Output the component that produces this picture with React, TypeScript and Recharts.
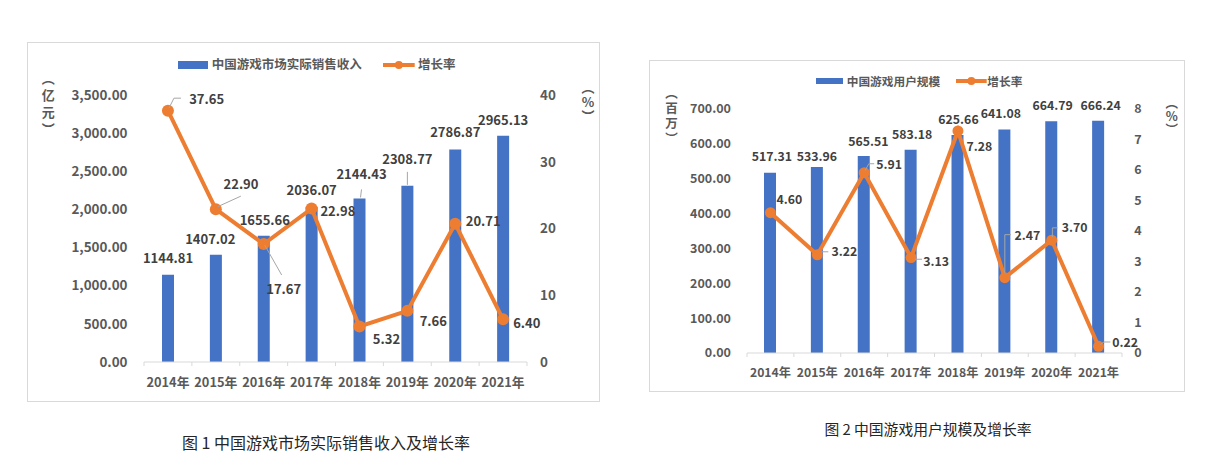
import React from 'react';
import { ComposedChart, Bar, Line, XAxis, YAxis, Legend, LabelList } from 'recharts';

// ---------- data ----------
const years = ['2014年', '2015年', '2016年', '2017年', '2018年', '2019年', '2020年', '2021年'];
const salesRevenue = [1144.81, 1407.02, 1655.66, 2036.07, 2144.43, 2308.77, 2786.87, 2965.13];
const salesGrowth = [37.65, 22.9, 17.67, 22.98, 5.32, 7.66, 20.71, 6.4];
const gameUsers = [517.31, 533.96, 565.51, 583.18, 625.66, 641.08, 664.79, 666.24];
const userGrowth = [4.6, 3.22, 5.91, 3.13, 7.28, 2.47, 3.7, 0.22];

const salesTicks = [0, 500, 1000, 1500, 2000, 2500, 3000, 3500];
const salesGrowthTicks = [0, 10, 20, 30, 40];
const userTicks = [0, 100, 200, 300, 400, 500, 600, 700];
const userGrowthTicks = [0, 1, 2, 3, 4, 5, 6, 7, 8];

const salesName = '中国游戏市场实际销售收入';
const usersName = '中国游戏用户规模';
const growthName = '增长率';
const salesUnit = '亿元';
const usersUnit = '百万';
const rateUnit = '%';
const caption1 = '图 1 中国游戏市场实际销售收入及增长率';
const caption2 = '图 2 中国游戏用户规模及增长率';

const salesData = years.map((year, i) => ({ year, value: salesRevenue[i], rate: salesGrowth[i] }));
const usersData = years.map((year, i) => ({ year, value: gameUsers[i], rate: userGrowth[i] }));

// ---------- label layout (offsets from the mark, px) ----------
type Pt = [number, number];
const salesBarLabelPos: Pt[] = [[0, -17], [-5.6, -16], [1, -16], [0, -17], [2, -25], [0, -27.6], [0, -17.7], [0, -16.8]];
const salesBarLeaders: (Pt[] | null)[] = [null, null, null, null, [[1, -1], [2, -9]], [[0, -1], [0, -14]], null, null];
const salesRateLabelPos: Pt[] = [[38.7, -11.7], [25.2, -26], [20, 44], [26.3, 2], [27, 12], [26, 10], [28, -3.5], [23.7, 3.4]];
const salesRateLeaders: (Pt[] | null)[] = [
  [[1, -2.5], [6, -12.5], [13, -12.5]],
  [[2, -2.5], [25, -13]],
  [[1, 1], [18, 31]],
  null, null, null, null, null,
];
const usersBarLabelPos: Pt[] = [[1.8, -17], [0, -11.2], [4.6, -15.2], [1.4, -16], [1, -16.2], [-3.6, -16.5], [1.4, -16.6], [2.5, -16.1]];
const usersBarLeaders: (Pt[] | null)[] = [null, null, null, null, null, null, null, null];
const usersRateLabelPos: Pt[] = [[19, -13.7], [27, -3.4], [25, -9], [25, 3], [21.4, 15], [22.5, -43], [23, -12.7], [26.5, -4.6]];
const usersRateLeaders: (Pt[] | null)[] = [
  null,
  [[4, -3], [11, -3]],
  [[1, -2.3], [4.6, -9], [10, -9]],
  [[4, 1.7], [11, 1.7]],
  null,
  [[0, -5], [0, -43], [6, -43]],
  [[0.7, -3.3], [0.7, -12.3], [6, -12.3]],
  [[1.8, -1.7], [5.4, -4.3], [11.8, -4.3]],
];

// ---------- styles ----------
const FONT = "'Noto Sans CJK SC', 'Noto Sans', sans-serif";
const BLUE = '#4472C4';
const ORANGE = '#ED7D31';
const AXIS_TEXT = '#595959';
const LABEL_TEXT = '#404040';
const BORDER = '#D9D9D9';
const LEADER = '#A6A6A6';

const num = (a: any, b: any) => (typeof a === 'number' ? a : typeof b === 'number' ? b : 0);

function labelRenderer(offsets: Pt[], leaders: (Pt[] | null)[], isBar: boolean, font: number) {
  return (p: any) => {
    const vb = p.viewBox || {};
    const x = num(p.x, vb.x);
    const y = num(p.y, vb.y);
    const w = isBar ? num(p.width, vb.width) : 0;
    const i = typeof p.index === 'number' ? p.index : 0;
    const ax = x + w / 2;
    const ay = y;
    const [dx, dy] = offsets[i] || [0, 0];
    const path = leaders[i];
    return (
      <g key={`lbl-${isBar ? 'b' : 'l'}-${i}`}>
        {path && (
          <polyline
            points={path.map(([a, b]) => `${ax + a},${ay + b}`).join(' ')}
            fill="none"
            stroke={LEADER}
            strokeWidth={1}
          />
        )}
        <text
          x={ax + dx}
          y={ay + dy}
          textAnchor="middle"
          dominantBaseline="central"
          fontFamily={FONT}
          fontSize={font}
          fontWeight={700}
          fill={LABEL_TEXT}
        >
          {Number(p.value).toFixed(2)}
        </text>
      </g>
    );
  };
}

function xTickRenderer(band: number, count: number, font: number, textDy: number) {
  return (p: any) => {
    const { x, y, payload, index } = p;
    return (
      <g key={`xt-${index}`}>
        <line x1={x - band / 2} x2={x - band / 2} y1={y} y2={y + 4} stroke={BORDER} strokeWidth={1} />
        {index === count - 1 && (
          <line x1={x + band / 2} x2={x + band / 2} y1={y} y2={y + 4} stroke={BORDER} strokeWidth={1} />
        )}
        <text
          x={x}
          y={y + textDy}
          textAnchor="middle"
          dominantBaseline="central"
          fontFamily={FONT}
          fontSize={font}
          fontWeight={700}
          fill={AXIS_TEXT}
        >
          {payload.value}
        </text>
      </g>
    );
  };
}

interface LegendCfg {
  cy: number; swX: number; swW: number; swH: number; t1X: number; lineX: number; lineW: number; t2X: number; font: number;
}

interface ChartCfg {
  left: number; top: number; width: number; height: number;
  data: any[];
  leftTicks: number[]; rightTicks: number[];
  leftAxisW: number; rightAxisW: number; xAxisH: number; marginTop: number;
  leftGap: number; rightGap: number;
  tickFont: number; labelFont: number; xFont: number; xTextDy: number;
  barSize: number; lineW: number; dotR: number;
  barPos: Pt[]; barLeaders: (Pt[] | null)[];
  ratePos: Pt[]; rateLeaders: (Pt[] | null)[];
  legend: LegendCfg;
  barName: string;
  leftFmt: (v: number) => string;
}

function DualChart({ c }: { c: ChartCfg }) {
  const innerW = c.width - 2;
  const innerH = c.height - 2;
  const band = (innerW - c.leftAxisW - c.rightAxisW) / years.length;
  const lg = c.legend;
  const tickStyle = { fontSize: c.tickFont, fontWeight: 700, fill: AXIS_TEXT, fontFamily: FONT };
  return (
    <div
      style={{
        position: 'absolute',
        left: c.left,
        top: c.top,
        width: c.width,
        height: c.height,
        border: `1px solid ${BORDER}`,
        boxSizing: 'border-box',
        background: '#fff',
      }}
    >
      <ComposedChart
        width={innerW}
        height={innerH}
        data={c.data}
        margin={{ top: c.marginTop, right: 0, bottom: 0, left: 0 }}
      >
        <XAxis
          dataKey="year"
          height={c.xAxisH}
          interval={0}
          tickLine={false}
          tickSize={0}
          tickMargin={0}
          axisLine={{ stroke: BORDER, strokeWidth: 1 }}
          tick={xTickRenderer(band, years.length, c.xFont, c.xTextDy)}
        />
        <YAxis
          yAxisId="left"
          orientation="left"
          width={c.leftAxisW}
          domain={[0, c.leftTicks[c.leftTicks.length - 1]]}
          ticks={c.leftTicks}
          interval={0}
          axisLine={false}
          tickLine={false}
          tickSize={0}
          tickMargin={c.leftGap}
          tick={tickStyle}
          tickFormatter={c.leftFmt}
        />
        <YAxis
          yAxisId="right"
          orientation="right"
          width={c.rightAxisW}
          domain={[0, c.rightTicks[c.rightTicks.length - 1]]}
          ticks={c.rightTicks}
          interval={0}
          axisLine={false}
          tickLine={false}
          tickSize={0}
          tickMargin={c.rightGap}
          tick={tickStyle}
        />
        <Legend
          layout="horizontal"
          verticalAlign="middle"
          align="center"
          wrapperStyle={{ left: 0, top: 0, width: innerW, height: 40 }}
          content={(props: any) => {
            const pl = props.payload || [];
            const n1 = (pl[0] && pl[0].value) || c.barName;
            const n2 = (pl[1] && pl[1].value) || growthName;
            const textStyle: React.CSSProperties = {
              position: 'absolute',
              top: lg.cy - lg.font * 0.75,
              height: lg.font * 1.5,
              lineHeight: `${lg.font * 1.5}px`,
              fontSize: lg.font,
              fontWeight: 700,
              color: AXIS_TEXT,
              fontFamily: FONT,
              whiteSpace: 'nowrap',
            };
            return (
              <div style={{ position: 'relative', width: innerW, height: 40 }}>
                <div
                  style={{
                    position: 'absolute',
                    left: lg.swX,
                    top: lg.cy - lg.swH / 2,
                    width: lg.swW,
                    height: lg.swH,
                    background: BLUE,
                  }}
                />
                <span style={{ ...textStyle, left: lg.t1X }}>{n1}</span>
                <svg
                  style={{ position: 'absolute', left: lg.lineX, top: lg.cy - 6 }}
                  width={lg.lineW}
                  height={12}
                >
                  <line x1={0} y1={6} x2={lg.lineW} y2={6} stroke={ORANGE} strokeWidth={4} />
                  <circle cx={lg.lineW / 2} cy={6} r={4} fill={ORANGE} />
                </svg>
                <span style={{ ...textStyle, left: lg.t2X }}>{n2}</span>
              </div>
            );
          }}
        />
        <Bar
          yAxisId="left"
          dataKey="value"
          name={c.barName}
          fill={BLUE}
          barSize={c.barSize}
          isAnimationActive={false}
        >
          <LabelList dataKey="value" content={labelRenderer(c.barPos, c.barLeaders, true, c.labelFont)} />
        </Bar>
        <Line
          yAxisId="right"
          dataKey="rate"
          name={growthName}
          type="linear"
          stroke={ORANGE}
          strokeWidth={c.lineW}
          dot={{ r: c.dotR, fill: ORANGE, stroke: ORANGE, strokeWidth: 0 }}
          activeDot={false}
          isAnimationActive={false}
        >
          <LabelList dataKey="rate" content={labelRenderer(c.ratePos, c.rateLeaders, false, c.labelFont)} />
        </Line>
      </ComposedChart>
    </div>
  );
}

// vertical unit label: full-width brackets rotate (vertical forms), inner text upright
function VerticalUnit({ text, cx, top, font, spacing }: { text: string; cx: number; top: number; font: number; spacing: number }) {
  return (
    <div
      style={{
        position: 'absolute',
        left: cx - font / 2,
        top,
        width: font,
        writingMode: 'vertical-rl',
        textOrientation: 'mixed',
        fontFamily: FONT,
        fontSize: font,
        fontWeight: 700,
        lineHeight: `${font}px`,
        letterSpacing: spacing,
        color: AXIS_TEXT,
        whiteSpace: 'nowrap',
      }}
    >
      （<span style={{ textOrientation: 'upright' }}>{text}</span>）
    </div>
  );
}

function Caption({ text, cx, cy, font }: { text: string; cx: number; cy: number; font: number }) {
  return (
    <div
      style={{
        position: 'absolute',
        left: cx - 250,
        width: 500,
        top: cy - font * 0.75,
        lineHeight: `${font * 1.5}px`,
        textAlign: 'center',
        fontFamily: FONT,
        fontSize: font,
        color: '#262626',
        whiteSpace: 'nowrap',
      }}
    >
      {text}
    </div>
  );
}

const fmtThousands = (v: number) =>
  v.toLocaleString('en-US', { minimumFractionDigits: 2, maximumFractionDigits: 2 });

const chart1: ChartCfg = {
  left: 27, top: 42, width: 573, height: 360,
  data: salesData,
  leftTicks: salesTicks, rightTicks: salesGrowthTicks,
  leftAxisW: 116, rightAxisW: 72, xAxisH: 39, marginTop: 52,
  leftGap: 16.5, rightGap: 13,
  tickFont: 13.4, labelFont: 13, xFont: 12.8, xTextDy: 19.7,
  barSize: 12, lineW: 4, dotR: 6,
  barPos: salesBarLabelPos, barLeaders: salesBarLeaders,
  ratePos: salesRateLabelPos, rateLeaders: salesRateLeaders,
  legend: { cy: 21.8, swX: 150.3, swW: 29.4, swH: 7.5, t1X: 183.7, lineX: 355.3, lineW: 31.7, t2X: 390, font: 12.5 },
  barName: salesName,
  leftFmt: fmtThousands,
};

const chart2: ChartCfg = {
  left: 649, top: 60, width: 536, height: 332,
  data: usersData,
  leftTicks: userTicks, rightTicks: userGrowthTicks,
  leftAxisW: 97, rightAxisW: 62, xAxisH: 38, marginTop: 48,
  leftGap: 16, rightGap: 12.3,
  tickFont: 12.5, labelFont: 12.3, xFont: 12.2, xTextDy: 19.4,
  barSize: 12, lineW: 4, dotR: 5.5,
  barPos: usersBarLabelPos, barLeaders: usersBarLeaders,
  ratePos: usersRateLabelPos, rateLeaders: usersRateLeaders,
  legend: { cy: 20.2, swX: 166, swW: 27.3, swH: 6, t1X: 196.7, lineX: 306, lineW: 30.7, t2X: 337.3, font: 11.7 },
  barName: usersName,
  leftFmt: fmtThousands,
};

export default function App() {
  return (
    <div
      style={{
        position: 'absolute',
        left: 0,
        top: 0,
        width: 1217,
        height: 470,
        background: '#fff',
        overflow: 'hidden',
      }}
    >
      <DualChart c={chart1} />
      <DualChart c={chart2} />
      <VerticalUnit text={salesUnit} cx={48.3} top={71.8} font={13} spacing={3.7} />
      <VerticalUnit text={rateUnit} cx={588} top={81.3} font={13} spacing={1.5} />
      <VerticalUnit text={usersUnit} cx={670.7} top={86.8} font={12.5} spacing={2.5} />
      <VerticalUnit text={rateUnit} cx={1171} top={96.5} font={12.5} spacing={0.5} />
      <Caption text={caption1} cx={326} cy={442} font={16} />
      <Caption text={caption2} cx={928} cy={429} font={14.8} />
    </div>
  );
}
